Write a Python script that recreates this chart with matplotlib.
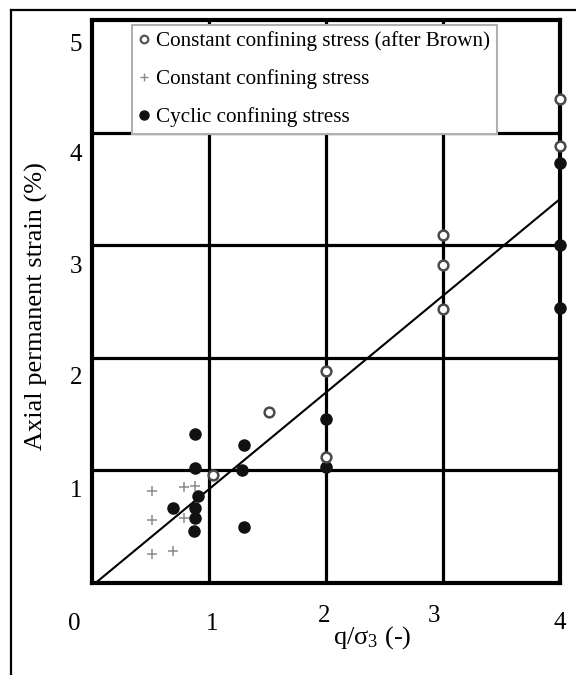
import matplotlib
matplotlib.use('Agg')
import matplotlib.pyplot as plt
from matplotlib.lines import Line2D

plt.rcParams['font.family'] = ['Liberation Serif', 'DejaVu Serif']
plt.rcParams['mathtext.fontset'] = 'custom'
plt.rcParams['mathtext.rm'] = 'Liberation Serif'
plt.rcParams['mathtext.it'] = 'Liberation Serif:italic'

# q/sigma3 vs axial permanent strain (%)
brown_x = [1.03, 1.51, 2.0, 2.0, 3.0, 3.0, 3.0, 4.0, 4.0]
brown_y = [0.96, 1.52, 1.88, 1.12, 3.09, 2.82, 2.43, 4.30, 3.88]

const_x = [0.51, 0.79, 0.88, 0.51, 0.79, 0.51, 0.69]
const_y = [0.82, 0.85, 0.86, 0.56, 0.58, 0.26, 0.28]

cyclic_x = [0.88, 0.88, 1.30, 1.28, 0.91, 0.69, 0.88, 0.88, 0.87, 1.30, 2.0, 2.0, 4.0, 4.0, 4.0]
cyclic_y = [1.32, 1.02, 1.23, 1.00, 0.77, 0.67, 0.67, 0.58, 0.46, 0.50, 1.46, 1.03, 3.73, 3.00, 2.44]

# trend line: strain = slope * (q/s3 - x0)
slope = 0.859
x0 = 0.03
fit_x = [x0, 4.0]

grid_vals = [1, 2, 3, 4]
xtick_labels = ['0', '1', '2', '3', '4']
ytick_labels = ['1', '2', '3', '4', '5']

fig = plt.figure(figsize=(5.76, 6.75), dpi=100)
ax = fig.add_axes([92 / 576, 1 - 583 / 675, 468 / 576, 563 / 675])
ax.set_xlim(0, 4)
ax.set_ylim(0, 5)

for v in grid_vals:
    ax.axvline(v, color='black', lw=2.3, zorder=1)
    ax.axhline(v, color='black', lw=2.3, zorder=1)
for s in ax.spines.values():
    s.set_linewidth(3)

ax.plot(fit_x, [slope * (x - x0) for x in fit_x], color='black', lw=1.5, zorder=2)

ax.plot(const_x, const_y, ls='none', marker='+', ms=6.5, mew=1.1, color='#8a8a8a', zorder=3)
ax.plot(cyclic_x, cyclic_y, ls='none', marker='o', ms=8, color='#111111', clip_on=False, zorder=4)
ax.plot(brown_x, brown_y, ls='none', marker='o', ms=7, mew=1.8, mfc='white', mec='#4a4a4a',
        clip_on=False, zorder=4)

# y tick labels sit between the grid lines
ax.set_xticks([])
ax.set_yticks([0.84, 1.84, 2.83, 3.82, 4.80], labels=ytick_labels)
ax.tick_params(axis='y', length=0, pad=7, labelsize=18)

xpos = [-0.15, 1.03, 1.98, 2.92, 4.0]
ypos = [-0.073, -0.073, -0.059, -0.059, -0.071]
for lab, xp, yp in zip(xtick_labels, xpos, ypos):
    ax.text(xp, yp, lab, fontsize=18, ha='center', va='center',
            transform=ax.get_xaxis_transform())

ax.set_ylabel('Axial permanent strain (%)', fontsize=19)
ax.yaxis.set_label_coords(-0.093, 0.492)
ax.text(0.598, -0.097, r'q/σ$_\mathregular{3}$ (-)', fontsize=19, ha='center', va='center',
        transform=ax.transAxes)

handles = [
    Line2D([], [], ls='none', marker='o', ms=5.5, mew=1.6, mfc='white', mec='#555555'),
    Line2D([], [], ls='none', marker='+', ms=6, mew=1, color='#8a8a8a'),
    Line2D([], [], ls='none', marker='o', ms=6.5, color='#111111'),
]
labels = ['Constant confining stress (after Brown)', 'Constant confining stress',
          'Cyclic confining stress']
leg = ax.legend(handles, labels, loc='upper left', bbox_to_anchor=(0.0855, 0.991),
                borderaxespad=0, fontsize=15.2, frameon=True, fancybox=False,
                framealpha=1, edgecolor='#b0b0b0', handlelength=0.5, handletextpad=0.35,
                borderpad=0.3, labelspacing=0.86)
leg.get_frame().set_linewidth(1.5)
leg.set_zorder(6)

# outer frame lines (left and top)
fig.add_artist(Line2D([11 / 576, 11 / 576], [0, 1 - 10 / 675], color='black', lw=1.6))
fig.add_artist(Line2D([11 / 576, 1], [1 - 10 / 675, 1 - 10 / 675], color='black', lw=1.6))

fig.savefig('out.png', dpi=100)
